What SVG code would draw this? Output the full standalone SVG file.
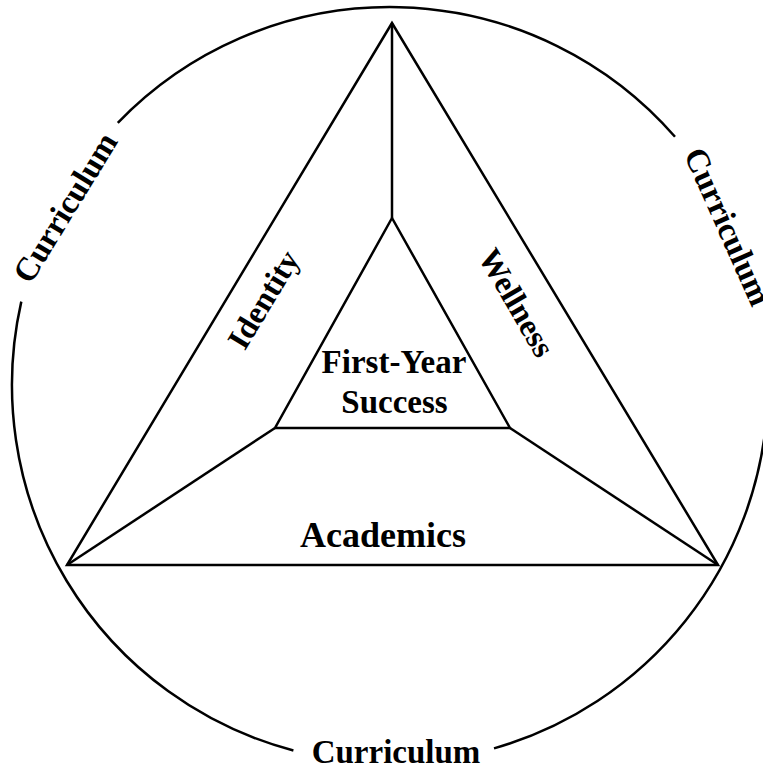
<svg xmlns="http://www.w3.org/2000/svg" width="763" height="772" viewBox="0 0 763 772">
  <style>
    .ln { fill: none; stroke: #000; stroke-width: 2.5; stroke-linejoin: miter; }
    .lbl { font-family: "Liberation Serif", "Times New Roman", serif; font-weight: bold; font-size: 33px; fill: #000; text-anchor: middle; }
  </style>
  <rect width="763" height="772" fill="#fff"/>

  <!-- outer ring, broken where the Curriculum labels sit -->
  <g id="ring">
    <path class="ln" d="M117.8,122.8 A378,378 0 0 1 675,136.7"/>
    <path class="ln" d="M767.5,405 A378,378 0 0 1 494,748.4"/>
    <path class="ln" d="M293.4,750.5 A378,378 0 0 1 21.3,301.6"/>
    <text class="lbl" transform="translate(66,208) rotate(-58.5)" y="10">Curriculum</text>
    <text class="lbl" transform="translate(727,227) rotate(66)" y="10">Curriculum</text>
    <text class="lbl" x="396" y="763">Curriculum</text>
  </g>

  <!-- spokes joining the inner triangle to the outer corners -->
  <g id="connectors">
    <line class="ln" x1="392" y1="23" x2="392" y2="218"/>
    <line class="ln" x1="275" y1="428" x2="67" y2="565"/>
    <line class="ln" x1="510" y1="428" x2="718" y2="565"/>
  </g>

  <g id="outer-triangle">
    <polygon class="ln" points="392,23 67,565 718,565"/>
  </g>

  <g id="identity">
    <text class="lbl" transform="translate(264,300) rotate(-59)" y="10" style="font-size:32px">Identity</text>
  </g>

  <g id="wellness">
    <text class="lbl" transform="translate(516,303) rotate(60)" y="10" style="font-size:32px">Wellness</text>
  </g>

  <g id="academics">
    <text class="lbl" x="383" y="547" style="font-size:36px">Academics</text>
  </g>

  <g id="first-year-success">
    <polygon class="ln" points="392,218 275,428 510,428"/>
    <text class="lbl" x="394" y="373">First-Year</text>
    <text class="lbl" x="394.5" y="413">Success</text>
  </g>
</svg>
